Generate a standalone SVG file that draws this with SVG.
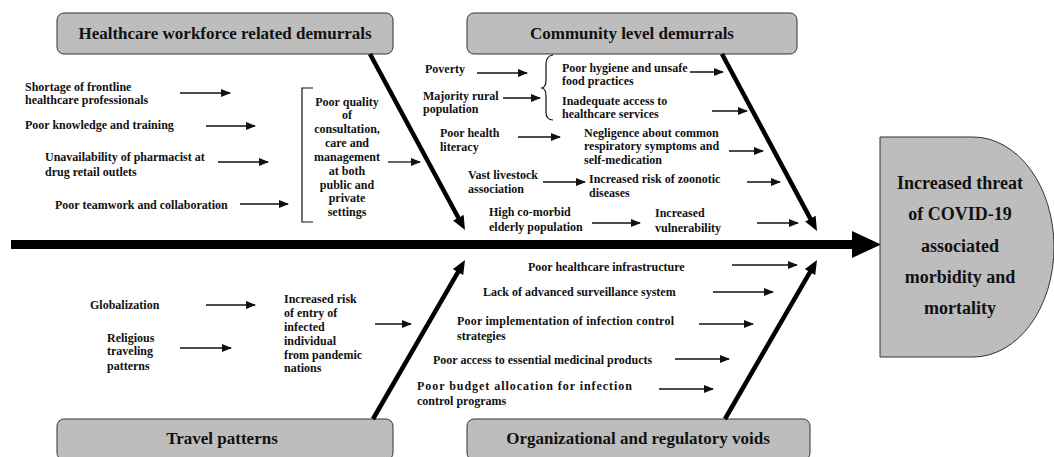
<svg xmlns="http://www.w3.org/2000/svg" width="1054" height="457" viewBox="0 0 1054 457" font-family="Liberation Serif, Times New Roman, serif">
<style>
.t{font-family:"Liberation Serif","Times New Roman",serif;font-weight:bold;font-size:12px;fill:#111}
.m{text-anchor:middle}
.h{font-size:17px;text-anchor:middle}
.c{font-size:18px;text-anchor:middle}
.box{fill:#bdbdbd;stroke:#333;stroke-width:1}
.sa{stroke:#111;stroke-width:1.3;fill:none;marker-end:url(#sa)}
.bone{stroke:#000;stroke-width:4.5;fill:none;marker-end:url(#ba)}
.br{stroke:#111;stroke-width:1.2;fill:none}
</style>
<defs>
<marker id="sa" markerUnits="userSpaceOnUse" viewBox="0 0 10 8" refX="9" refY="4" markerWidth="10" markerHeight="8" orient="auto"><path d="M0,0 L10,4 L0,8 z" fill="#111"/></marker>
<marker id="ba" markerUnits="userSpaceOnUse" viewBox="0 0 14 12" refX="2" refY="6" markerWidth="14" markerHeight="12" orient="auto"><path d="M0,0 L14,6 L0,12 z" fill="#000"/></marker>
</defs>
<rect width="1054" height="457" fill="#fff"/>

<g id="spine">
<line x1="11" y1="244.5" x2="856" y2="244.5" stroke="#000" stroke-width="9"/>
<polygon points="852,231 881,244.5 852,258" fill="#000"/>
</g>

<g id="effect">
<path class="box" d="M880,137 H973 A81,110 0 0 1 973,357 H880 Z"/>
<text class="t c" x="960" y="189">Increased threat</text>
<text class="t c" x="960" y="220">of COVID-19</text>
<text class="t c" x="960" y="252">associated</text>
<text class="t c" x="960" y="283">morbidity and</text>
<text class="t c" x="960" y="314">mortality</text>
</g>

<g id="cat-workforce">
<rect class="box" x="57" y="13" width="336" height="41" rx="7"/>
<text class="t h" x="225" y="39">Healthcare workforce related demurrals</text>
</g>
<g id="cat-community">
<rect class="box" x="467" y="13" width="330" height="41" rx="7"/>
<text class="t h" x="632" y="39">Community level demurrals</text>
</g>
<g id="cat-travel">
<rect class="box" x="57" y="419" width="336" height="41" rx="7"/>
<text class="t h" x="222" y="444">Travel patterns</text>
</g>
<g id="cat-org">
<rect class="box" x="467" y="419" width="343" height="41" rx="7"/>
<text class="t h" x="638" y="444">Organizational and regulatory voids</text>
</g>

<g id="connectors">
<line class="bone" x1="370" y1="54" x2="459.3" y2="219.5"/>
<line class="bone" x1="722" y1="54" x2="811.3" y2="220.4"/>
<line class="bone" x1="373" y1="419" x2="459" y2="270.4"/>
<line class="bone" x1="725" y1="419" x2="811" y2="270.4"/>

<line class="sa" x1="180" y1="93" x2="230" y2="93"/>
<line class="sa" x1="206" y1="126" x2="255" y2="126"/>
<line class="sa" x1="218" y1="162" x2="268" y2="162"/>
<line class="sa" x1="240" y1="204" x2="288" y2="204"/>
<line class="sa" x1="388" y1="162" x2="420" y2="162"/>

<line class="sa" x1="477" y1="73" x2="527" y2="73"/>
<line class="sa" x1="503" y1="98" x2="540" y2="98"/>
<line class="sa" x1="690" y1="72" x2="723" y2="72"/>
<line class="sa" x1="712" y1="111" x2="747" y2="111"/>
<line class="sa" x1="518" y1="137" x2="560" y2="137"/>
<line class="sa" x1="729" y1="151" x2="763" y2="151"/>
<line class="sa" x1="543" y1="182" x2="585" y2="182"/>
<line class="sa" x1="747" y1="182" x2="780" y2="182"/>
<line class="sa" x1="592" y1="223" x2="640" y2="223"/>
<line class="sa" x1="757" y1="223" x2="798" y2="223"/>

<line class="sa" x1="206" y1="305" x2="255" y2="305"/>
<line class="sa" x1="180" y1="348" x2="231" y2="348"/>
<line class="sa" x1="375" y1="324" x2="411" y2="324"/>

<line class="sa" x1="732" y1="265" x2="797" y2="265"/>
<line class="sa" x1="713" y1="292" x2="773" y2="292"/>
<line class="sa" x1="699" y1="324" x2="753" y2="324"/>
<line class="sa" x1="675" y1="359" x2="729" y2="359"/>
<line class="sa" x1="659" y1="389" x2="713" y2="389"/>

<path class="br" d="M313,88 H302 V222 H313"/>
<path class="br" d="M553,55 Q546,56 546,64 V80 Q546,88 541,88 Q546,88 546,96 V112 Q546,120 553,120"/>
</g>

<g id="workforce-causes">
<text class="t" x="25" y="91">Shortage of frontline</text>
<text class="t" x="25" y="104">healthcare professionals</text>
<text class="t" x="25" y="129">Poor knowledge and training</text>
<text class="t" x="45" y="161">Unavailability of pharmacist at</text>
<text class="t" x="45" y="176">drug retail outlets</text>
<text class="t" x="55" y="209">Poor teamwork and collaboration</text>
</g>
<g id="workforce-effect">
<text class="t m" x="347" y="106">Poor quality</text>
<text class="t m" x="347" y="119">of</text>
<text class="t m" x="347" y="133">consultation,</text>
<text class="t m" x="347" y="147">care and</text>
<text class="t m" x="347" y="161">management</text>
<text class="t m" x="347" y="175">at both</text>
<text class="t m" x="347" y="189">public and</text>
<text class="t m" x="347" y="202">private</text>
<text class="t m" x="347" y="216">settings</text>
</g>

<g id="community-causes">
<text class="t" x="425" y="73">Poverty</text>
<text class="t" x="423" y="100">Majority rural</text>
<text class="t" x="423" y="113">population</text>
<text class="t" x="562" y="72">Poor hygiene and unsafe</text>
<text class="t" x="562" y="85">food practices</text>
<text class="t" x="562" y="105">Inadequate access to</text>
<text class="t" x="562" y="118">healthcare services</text>
<text class="t" x="440" y="137">Poor health</text>
<text class="t" x="440" y="151">literacy</text>
<text class="t" x="584" y="137">Negligence about common</text>
<text class="t" x="584" y="150">respiratory symptoms and</text>
<text class="t" x="584" y="164">self-medication</text>
<text class="t" x="468" y="179">Vast livestock</text>
<text class="t" x="468" y="193">association</text>
<text class="t" x="589" y="183">Increased risk of zoonotic</text>
<text class="t" x="589" y="197">diseases</text>
<text class="t" x="489" y="216">High co-morbid</text>
<text class="t" x="489" y="231">elderly population</text>
<text class="t" x="655" y="217">Increased</text>
<text class="t" x="655" y="232">vulnerability</text>
</g>

<g id="travel-causes">
<text class="t" x="90" y="309">Globalization</text>
<text class="t" x="107" y="342">Religious</text>
<text class="t" x="107" y="355">traveling</text>
<text class="t" x="107" y="370">patterns</text>
<text class="t" x="284" y="303">Increased risk</text>
<text class="t" x="284" y="317">of entry of</text>
<text class="t" x="284" y="331">infected</text>
<text class="t" x="284" y="345">individual</text>
<text class="t" x="284" y="359">from pandemic</text>
<text class="t" x="284" y="372">nations</text>
</g>

<g id="org-causes">
<text class="t" x="528" y="271">Poor healthcare infrastructure</text>
<text class="t" x="483" y="296">Lack of advanced surveillance system</text>
<text class="t" x="457" y="325" textLength="217" lengthAdjust="spacing">Poor implementation of infection control</text>
<text class="t" x="457" y="340">strategies</text>
<text class="t" x="433" y="364">Poor access to essential medicinal products</text>
<text class="t" x="417" y="390" textLength="215" lengthAdjust="spacing">Poor budget allocation for infection</text>
<text class="t" x="417" y="405">control programs</text>
</g>
</svg>
